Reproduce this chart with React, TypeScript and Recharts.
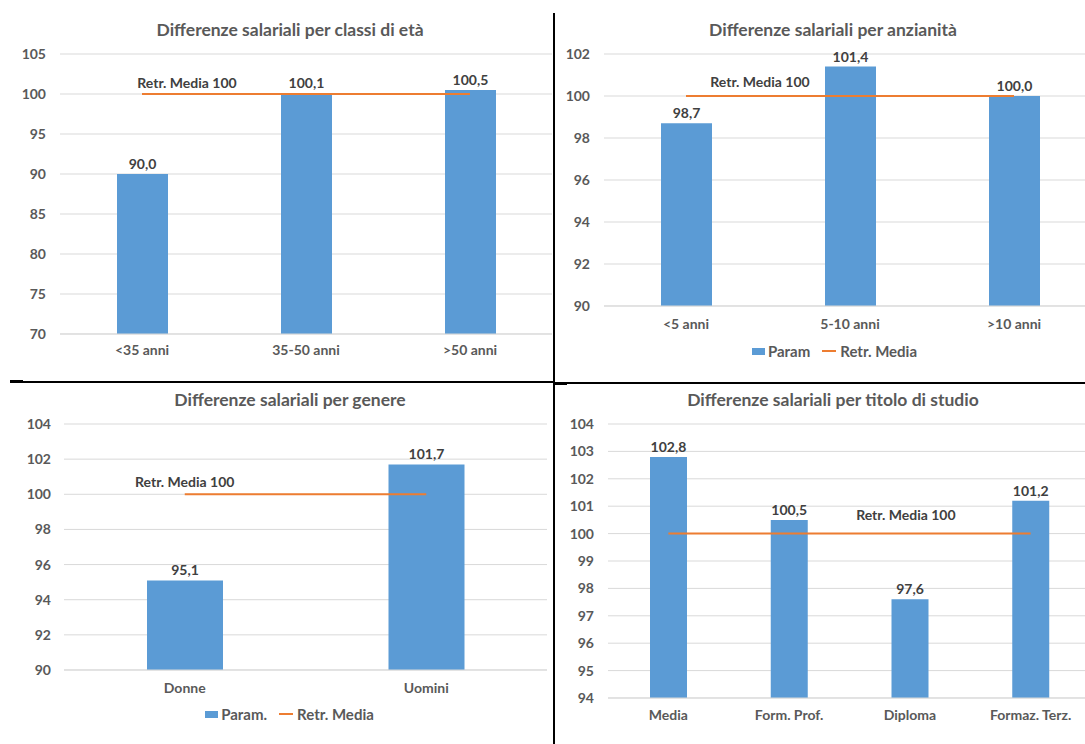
import React from 'react';
import { ComposedChart, Bar, Line, XAxis, YAxis, CartesianGrid, LabelList, Legend } from 'recharts';

const FONT = 'Lato, "Open Sans", sans-serif';
const BLUE = '#5B9BD5';
const ORANGE = '#ED7D31';
const GRID = '#D9D9D9';
const TEXT = '#595959';
const LABEL = '#404040';

const mediaValue = 100;
const mediaText = 'Retr. Media 100';

const etaCategories = ['<35 anni', '35-50 anni', '>50 anni'];
const etaValues = [90.0, 100.1, 100.5];
const etaTicks = [70, 75, 80, 85, 90, 95, 100, 105];

const anzCategories = ['<5 anni', '5-10 anni', '>10 anni'];
const anzValues = [98.7, 101.4, 100.0];
const anzTicks = [90, 92, 94, 96, 98, 100, 102];

const genCategories = ['Donne', 'Uomini'];
const genValues = [95.1, 101.7];
const genTicks = [90, 92, 94, 96, 98, 100, 102, 104];

const stuCategories = ['Media', 'Form. Prof.', 'Diploma', 'Formaz. Terz.'];
const stuValues = [102.8, 100.5, 97.6, 101.2];
const stuTicks = [94, 95, 96, 97, 98, 99, 100, 101, 102, 103, 104];

const build = (cats: string[], vals: number[]) =>
  cats.map((c, i) => ({ name: c, param: vals[i], media: mediaValue }));

const fmt = (v: any) => Number(v).toFixed(1).replace('.', ',');

type PanelProps = {
  title: string;
  titleX: number;
  titleY: number;
  left: number;
  top: number;
  width: number;
  height: number;
  data: any[];
  ticks: number[];
  yWidth: number;
  yTickMargin: number;
  margin: { top: number; right: number; left: number; bottom: number };
  xHeight: number;
  xTickMargin: number;
  barSize: number;
  mediaIdx: number;
  mediaDx: number;
  mediaDy: number;
  legend?: { barName: string; center: number };
};

const LegendBox = ({ barName }: { barName: string }) => (
  <div
    style={{
      display: 'flex',
      alignItems: 'center',
      justifyContent: 'center',
      height: 24,
      fontFamily: FONT,
      fontWeight: 700,
      fontSize: 15,
      color: TEXT,
    }}
  >
    <span style={{ display: 'inline-block', width: 13, height: 7, background: BLUE, marginRight: 3 }} />
    <span style={{ marginRight: 12 }}>{barName}</span>
    <span style={{ display: 'inline-block', width: 14, height: 2, background: ORANGE, marginRight: 4 }} />
    <span>Retr. Media</span>
  </div>
);

const Panel = (p: PanelProps) => {
  const mediaLabel = (props: any) => {
    if (props.index !== p.mediaIdx) return null;
    const x = props.x ?? props.viewBox?.x;
    const y = props.y ?? props.viewBox?.y;
    return (
      <text
        x={x + p.mediaDx}
        y={y - p.mediaDy}
        textAnchor="middle"
        dominantBaseline="central"
        fill={LABEL}
        fontFamily={FONT}
        fontWeight={700}
        fontSize={14}
      >
        {mediaText}
      </text>
    );
  };
  return (
    <>
      <div
        style={{
          position: 'absolute',
          left: p.titleX - 300,
          top: p.titleY - 12,
          width: 600,
          textAlign: 'center',
          fontFamily: FONT,
          fontWeight: 700,
          fontSize: 17.5,
          lineHeight: '24px',
          color: TEXT,
        }}
      >
        {p.title}
      </div>
      <div style={{ position: 'absolute', left: p.left, top: p.top, width: p.width, height: p.height }}>
        <ComposedChart width={p.width} height={p.height} data={p.data} margin={p.margin}>
          <CartesianGrid vertical={false} stroke={GRID} />
          <XAxis
            dataKey="name"
            axisLine={{ stroke: GRID }}
            tickLine={false}
            tickSize={0}
            tickMargin={p.xTickMargin}
            height={p.xHeight}
            interval={0}
            tick={{ fill: TEXT, fontSize: 14, fontWeight: 700, fontFamily: FONT }}
          />
          <YAxis
            domain={[p.ticks[0], p.ticks[p.ticks.length - 1]]}
            ticks={p.ticks}
            interval={0}
            width={p.yWidth}
            axisLine={false}
            tickLine={false}
            tickSize={0}
            tickMargin={p.yTickMargin}
            allowDataOverflow
            tick={{ fill: TEXT, fontSize: 14, fontWeight: 700, fontFamily: FONT }}
          />
          <Bar dataKey="param" name={p.legend ? p.legend.barName : 'Param'} fill={BLUE} barSize={p.barSize} isAnimationActive={false}>
            <LabelList
              dataKey="param"
              position="top"
              offset={5}
              formatter={fmt}
              fill={LABEL}
              fontFamily={FONT}
              fontWeight={700}
              fontSize={14}
            />
          </Bar>
          <Line
            type="linear"
            dataKey="media"
            name="Retr. Media"
            stroke={ORANGE}
            strokeWidth={2}
            dot={false}
            activeDot={false}
            isAnimationActive={false}
          >
            <LabelList dataKey="media" content={mediaLabel} />
          </Line>
          {p.legend && (
            <Legend
              verticalAlign="bottom"
              height={24}
              wrapperStyle={{ left: p.legend.center - 150, width: 300 }}
              content={() => <LegendBox barName={p.legend!.barName} />}
            />
          )}
        </ComposedChart>
      </div>
    </>
  );
};

export default function App() {
  return (
    <div
      style={{
        position: 'absolute',
        left: 0,
        top: 0,
        width: 1085,
        height: 744,
        overflow: 'hidden',
        background: '#FFFFFF',
      }}
    >
      <Panel
        title="Differenze salariali per classi di età"
        titleX={290}
        titleY={30}
        left={0}
        top={0}
        width={553}
        height={380}
        data={build(etaCategories, etaValues)}
        ticks={etaTicks}
        yWidth={60}
        yTickMargin={14}
        margin={{ top: 54, right: 1, left: 0, bottom: 16 }}
        xHeight={30}
        xTickMargin={11}
        barSize={51}
        mediaIdx={0}
        mediaDx={45}
        mediaDy={12}
      />
      <Panel
        title="Differenze salariali per anzianità"
        titleX={833}
        titleY={30}
        left={554}
        top={0}
        width={545}
        height={380}
        data={build(anzCategories, anzValues)}
        ticks={anzTicks}
        yWidth={50}
        yTickMargin={14}
        margin={{ top: 54, right: 3, left: 0, bottom: 17 }}
        xHeight={33}
        xTickMargin={13}
        barSize={51}
        mediaIdx={0}
        mediaDx={74}
        mediaDy={15}
        legend={{ barName: 'Param', center: 280.5 }}
      />
      <Panel
        title="Differenze salariali per genere"
        titleX={290}
        titleY={400}
        left={0}
        top={383}
        width={553}
        height={361}
        data={build(genCategories, genValues)}
        ticks={genTicks}
        yWidth={64}
        yTickMargin={13}
        margin={{ top: 41, right: 6, left: 0, bottom: 18 }}
        xHeight={32}
        xTickMargin={13}
        barSize={76}
        mediaIdx={0}
        mediaDx={0}
        mediaDy={13}
        legend={{ barName: 'Param.', center: 289.5 }}
      />
      <Panel
        title="Differenze salariali per titolo di studio"
        titleX={833}
        titleY={400}
        left={554}
        top={383}
        width={540}
        height={361}
        data={build(stuCategories, stuValues)}
        ticks={stuTicks}
        yWidth={54}
        yTickMargin={14}
        margin={{ top: 41, right: 3, left: 0, bottom: 16 }}
        xHeight={30}
        xTickMargin={12}
        barSize={37}
        mediaIdx={2}
        mediaDx={-4}
        mediaDy={19}
      />
      <div style={{ position: 'absolute', left: 553, top: 13, width: 2, height: 731, background: '#000' }} />
      <div style={{ position: 'absolute', left: 10, top: 381, width: 543, height: 2, background: '#000' }} />
      <div style={{ position: 'absolute', left: 10, top: 380, width: 13, height: 3, background: '#000' }} />
      <div style={{ position: 'absolute', left: 555, top: 382, width: 530, height: 2, background: '#000' }} />
      <div style={{ position: 'absolute', left: 555, top: 382, width: 12, height: 3, background: '#000' }} />
    </div>
  );
}
